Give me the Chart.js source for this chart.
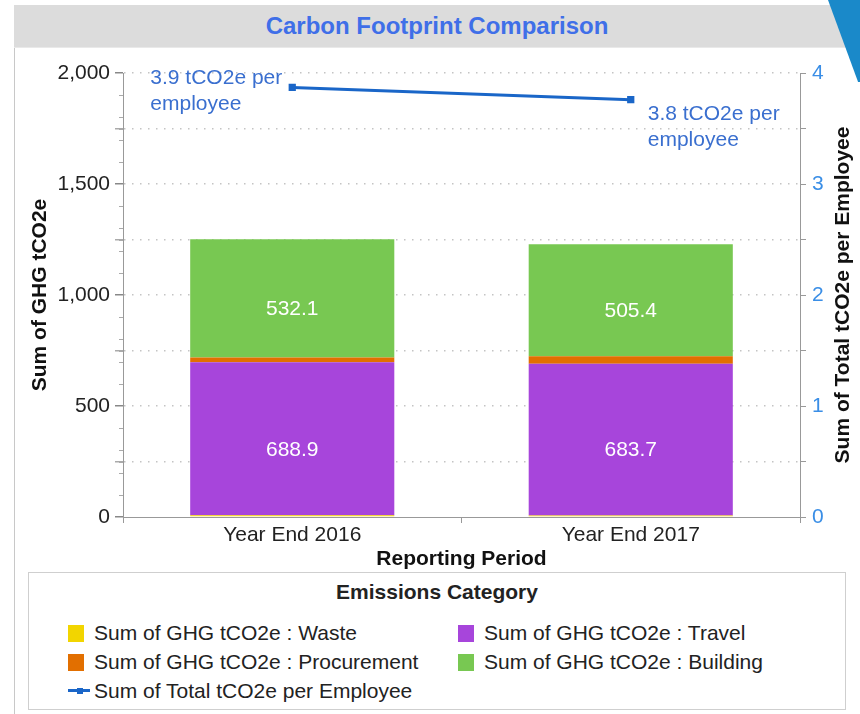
<!DOCTYPE html>
<html>
<head>
<meta charset="utf-8">
<script src="https://cdn.jsdelivr.net/npm/chart.js@4"></script>
<style>
  body { margin: 0; width: 860px; height: 714px; position: relative; overflow: hidden; background: #fff;
         font-family: "Liberation Sans", Arial, sans-serif; }
  #frame { position: absolute; left: 14px; top: 5px; width: 1px; height: 709px; background: #c8c8c8; }
  #title { position: absolute; left: 14px; top: 5px; width: 846px; height: 42px; background: #dcdcdc;
           border-bottom: 1px solid #e9e9e9; text-align: center; line-height: 42px;
           font-size: 24px; font-weight: bold; color: #3f6fe8; }
  #corner { position: absolute; left: 828px; top: 0; width: 32px; height: 82px; background: #1a89c9;
            clip-path: polygon(0 0, 100% 0, 100% 100%, 94% 100%); }
  #wrap { position: absolute; left: 14px; top: 48px; width: 846px; height: 522px; }
  #legend { position: absolute; left: 28px; top: 572px; width: 818px; height: 138px;
            border: 1px solid #cfcfcf; box-sizing: border-box; }
  #legend h3 { margin: 0; position: absolute; top: 7px; width: 100%; text-align: center;
               font-size: 21px; font-weight: bold; color: #222; }
  .item { position: absolute; font-size: 21px; color: #222; white-space: nowrap; line-height: 24px; }
  .sw { display: inline-block; width: 16px; height: 17px; vertical-align: -2px; margin-right: 10px; }
  .ln { display: inline-block; width: 22px; height: 3px; vertical-align: 6px; margin-right: 4px; position: relative; }
  .ln i { position: absolute; left: 9px; top: -1.5px; width: 6px; height: 6px; }
</style>
</head>
<body>
<div id="frame"></div>
<div id="title">Carbon Footprint Comparison</div>
<div id="corner"></div>
<div id="wrap"><canvas id="chart"></canvas></div>
<div id="legend"><h3>Emissions Category</h3></div>
<script>
const periods = ["Year End 2016", "Year End 2017"];
const waste = [8, 7];
const travel = [688.9, 683.7];
const procurement = [22, 33];
const building = [532.1, 505.4];
const perEmployee = [3.87, 3.76];

const yTicks = [0, 500, 1000, 1500, 2000];
const y1Ticks = [0, 1, 2, 3, 4];

const FONT = "'Liberation Sans', Arial, sans-serif";
const LINE_BLUE = "#1a66c8";
const AXIS_GRAY = "#999";

const labelPlugin = {
    id: "labels",
    afterDatasetsDraw(chart) {
        const ctx = chart.ctx;
        ctx.save();
        // values inside travel and building bars (sit a little below centre, like the original)
        ctx.font = "21px " + FONT;
        ctx.fillStyle = "#ffffff";
        ctx.textAlign = "center";
        ctx.textBaseline = "middle";
        [1, 3].forEach(function (di) {
            chart.getDatasetMeta(di).data.forEach(function (bar, i) {
                const mid = (bar.y + bar.base) / 2 + 11;
                ctx.fillText(chart.data.datasets[di].data[i].toFixed(1), bar.x, mid);
            });
        });
        // line labels
        ctx.fillStyle = "#3a6fcf";
        ctx.textAlign = "left";
        const pts = chart.getDatasetMeta(4).data;
        pts.forEach(function (p, i) {
            const l1 = perEmployee[i].toFixed(1) + " tCO2e per";
            const l2 = "employee";
            let x, y;
            if (i === 0) {
                x = p.x - 10 - ctx.measureText(l1).width;
                y = p.y - 9;
            } else {
                x = p.x + 17;
                y = p.y + 15;
            }
            ctx.fillText(l1, x, y);
            ctx.fillText(l2, x, y + 26);
        });
        ctx.restore();
    },
    afterDraw(chart) {
        const ctx = chart.ctx;
        const a = chart.chartArea;
        const cy = (a.top + a.bottom) / 2;
        // small minor ticks on the left axis
        const ys = chart.scales.y;
        ctx.save();
        ctx.strokeStyle = "#aaa";
        ctx.lineWidth = 1;
        ctx.beginPath();
        for (let v = 100; v < 2000; v += 50) {
            if (v % 500 === 0 || (v % 100 !== 0 && v % 250 !== 0)) continue;
            const py = Math.round(ys.getPixelForValue(v)) + 0.5;
            ctx.moveTo(a.left - 4, py);
            ctx.lineTo(a.left, py);
        }
        ctx.stroke();
        ctx.restore();

        ctx.save();
        ctx.font = "bold 21px " + FONT;
        ctx.fillStyle = "#111";
        ctx.textAlign = "center";
        ctx.textBaseline = "middle";
        ctx.fillText("Reporting Period", (a.left + a.right) / 2, 511);
        ctx.translate(26, cy);
        ctx.rotate(-Math.PI / 2);
        ctx.fillText("Sum of GHG tCO2e", 0, 0);
        ctx.restore();
        ctx.save();
        ctx.font = "bold 21px " + FONT;
        ctx.fillStyle = "#111";
        ctx.textAlign = "center";
        ctx.textBaseline = "middle";
        ctx.translate(829, cy);
        ctx.rotate(-Math.PI / 2);
        ctx.fillText("Sum of Total tCO2e per Employee", 0, 0);
        ctx.restore();
    }
};

const ctx = document.getElementById("chart").getContext("2d");
const chart = new Chart(ctx, {
    data: {
        labels: periods,
        datasets: [
            { type: "bar", label: "Sum of GHG tCO2e : Waste", data: waste, backgroundColor: "#f2d500", yAxisID: "y", order: 1 },
            { type: "bar", label: "Sum of GHG tCO2e : Travel", data: travel, backgroundColor: "#a745db", yAxisID: "y", order: 1 },
            { type: "bar", label: "Sum of GHG tCO2e : Procurement", data: procurement, backgroundColor: "#e26f00", yAxisID: "y", order: 1 },
            { type: "bar", label: "Sum of GHG tCO2e : Building", data: building, backgroundColor: "#78c852", yAxisID: "y", order: 1 },
            { type: "line", label: "Sum of Total tCO2e per Employee", data: perEmployee, borderColor: LINE_BLUE,
              backgroundColor: LINE_BLUE, borderWidth: 3, pointStyle: "rect", pointRadius: 3, yAxisID: "y1", order: 0 }
        ]
    },
    options: {
        responsive: true,
        maintainAspectRatio: false,
        animation: false,
        layout: { padding: { top: 25, left: 0, right: 0, bottom: 0 } },
        datasets: { bar: { barPercentage: 0.603, categoryPercentage: 1.0 } },
        plugins: { legend: { display: false }, tooltip: { enabled: false } },
        scales: {
            x: {
                stacked: true,
                afterFit: function (s) { s.height = 53; },
                grid: { drawOnChartArea: false, color: AXIS_GRAY, tickLength: 6 },
                border: { color: AXIS_GRAY },
                ticks: { color: "#222", font: { size: 21, family: FONT }, padding: 0 }
            },
            y: {
                stacked: true,
                min: 0, max: 2000,
                afterFit: function (s) { s.width = 109; },
                afterBuildTicks: function (s) {
                    const t = [];
                    for (let v = 0; v <= 2000; v += 250) t.push({ value: v });
                    s.ticks = t;
                },
                grid: {
                    color: function (c) { return c.tick && c.tick.value === 0 ? "transparent" : "#c4c4c4"; },
                    tickColor: function (c) { return c.tick && yTicks.includes(c.tick.value) ? "#888" : "#aaa"; },
                    tickLength: 8,
                    tickBorderDash: [],
                    lineWidth: 1.5
                },
                border: { display: true, color: AXIS_GRAY, dash: [1.5, 6.5] },
                ticks: {
                    color: "#222", font: { size: 21, family: FONT }, padding: 5,
                    callback: function (v) { return yTicks.includes(v) ? v.toLocaleString("en-US") : ""; }
                }
            },
            y1: {
                position: "right",
                min: 0, max: 4,
                afterFit: function (s) { s.width = 60; },
                afterBuildTicks: function (s) {
                    const t = [];
                    for (let v = 0; v <= 4; v += 0.5) t.push({ value: v });
                    s.ticks = t;
                },
                grid: { drawOnChartArea: false, color: AXIS_GRAY, tickLength: 6 },
                border: { color: AXIS_GRAY },
                ticks: {
                    color: "#3a8ee6", font: { size: 21, family: FONT }, padding: 6,
                    callback: function (v) { return y1Ticks.includes(v) ? String(v) : ""; }
                }
            }
        }
    },
    plugins: [labelPlugin]
});

// html legend built from the datasets
// slots: Waste | Travel, Procurement | Building, then the line
const legend = document.getElementById("legend");
const spots = [[39, 48], [429, 48], [39, 77], [429, 77], [39, 106]];
chart.data.datasets.forEach(function (ds, di) {
    const el = document.createElement("div");
    el.className = "item";
    el.style.left = spots[di][0] + "px";
    el.style.top = spots[di][1] + "px";
    let mark;
    if (ds.type === "line") {
        mark = '<span class="ln" style="background:' + ds.borderColor + '"><i style="background:' + ds.borderColor + '"></i></span>';
    } else {
        mark = '<span class="sw" style="background:' + ds.backgroundColor + '"></span>';
    }
    el.innerHTML = mark + ds.label;
    legend.appendChild(el);
});
</script>
</body>
</html>
